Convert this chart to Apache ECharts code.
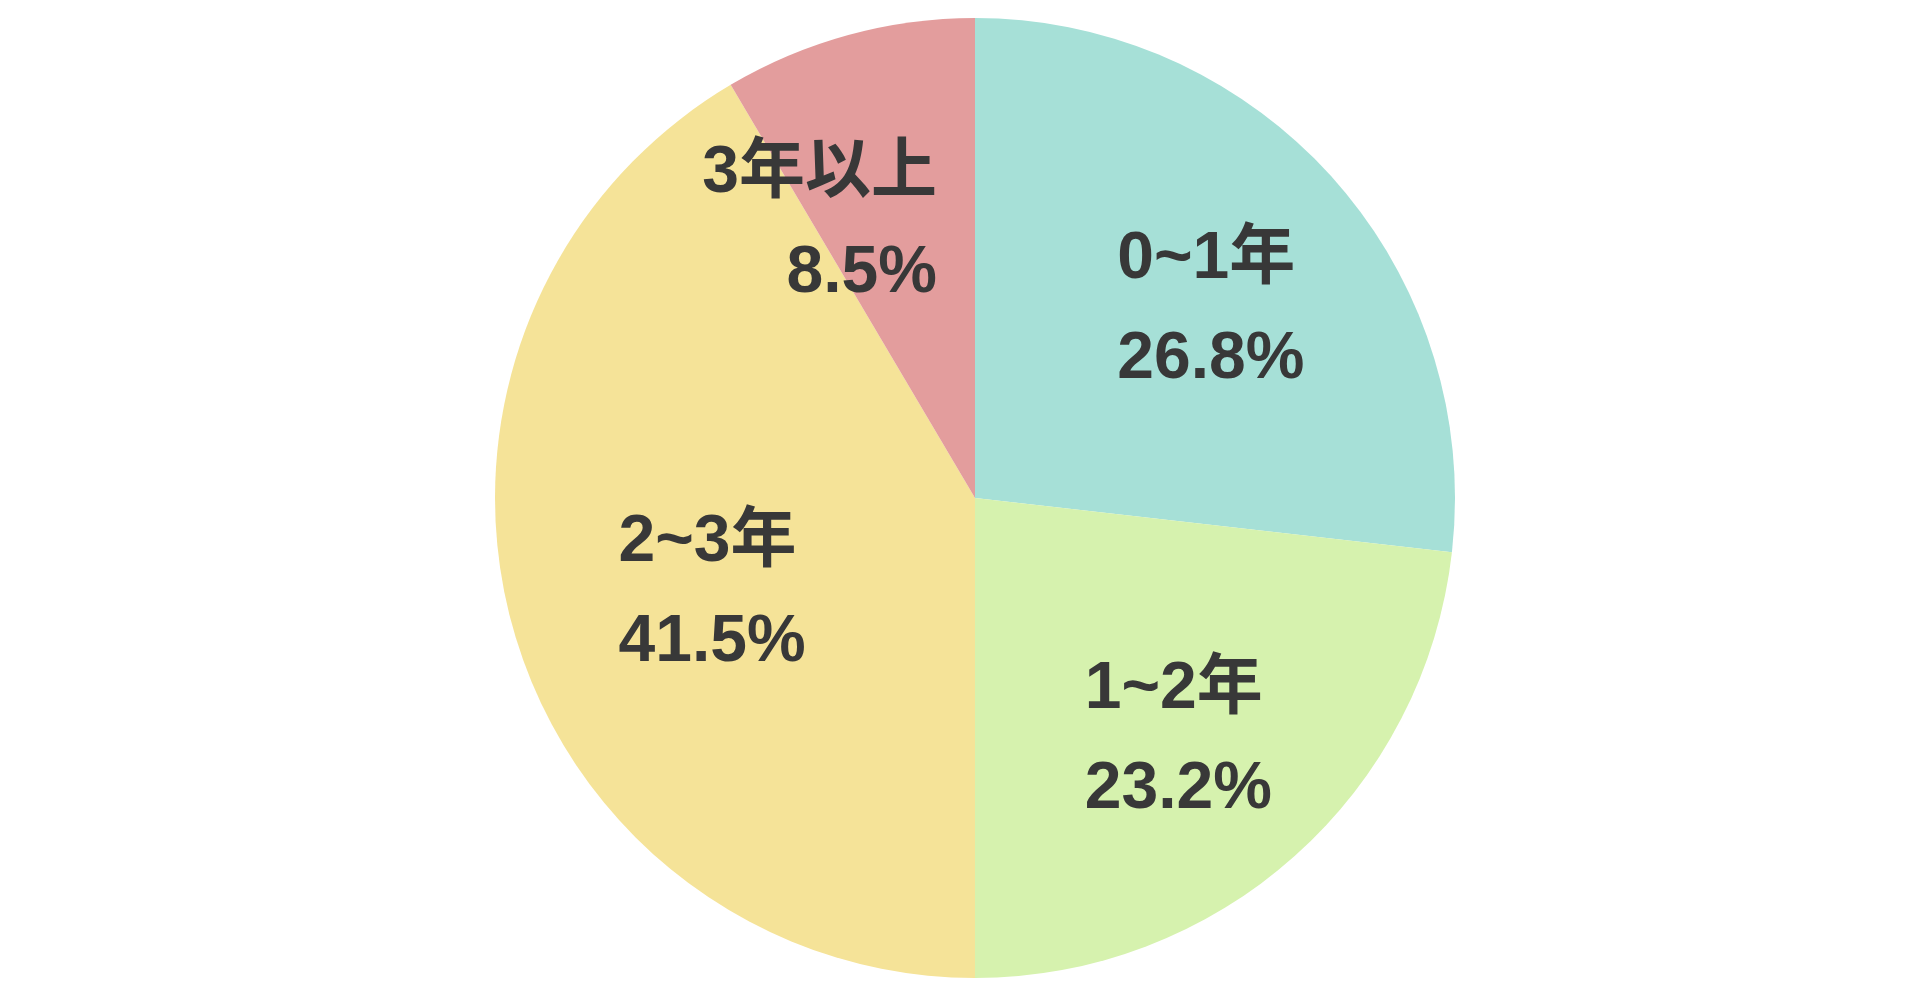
<!DOCTYPE html>
<html><head><meta charset="utf-8">
<script src="https://cdn.jsdelivr.net/npm/echarts@6/dist/echarts.min.js"></script>
<style>html,body{margin:0;padding:0;background:#fff}#c{width:1920px;height:1005px}</style>
</head><body><div id="c"></div>
<script>
const categories = ['0~1年', '1~2年', '2~3年', '3年以上'];
const values = [26.8, 23.2, 41.5, 8.5];
const colors = ['#a6e0d7', '#d6f2ae', '#f5e398', '#e39d9d'];

// label nudges (style only)
const labelShift = [
  { dx: -39, dy: -26, align: 'left' },
  { dx: -52, dy: 61, align: 'left' },
  { dx: -122, dy: 31, align: 'left' },
  { dx: 26, dy: -40, align: 'right' }
];

const chart = echarts.init(document.getElementById('c'));
chart.setOption({
  animation: false,
  series: [{
    type: 'pie',
    center: [975, 498],
    radius: 480,
    startAngle: 90,
    clockwise: true,
    label: {
      show: true,
      position: 'inside',
      formatter: p => p.name + '\n' + p.value + '%',
      fontFamily: '"Liberation Sans", "Noto Sans CJK JP", sans-serif',
      fontWeight: 'bold',
      fontSize: 66,
      lineHeight: 100,
      color: '#383838'
    },
    labelLayout: p => ({
      dx: labelShift[p.dataIndex].dx,
      dy: labelShift[p.dataIndex].dy,
      align: labelShift[p.dataIndex].align,
      verticalAlign: 'middle'
    }),
    labelLine: { show: false },
    emphasis: { disabled: true },
    data: categories.map((n, i) => ({ name: n, value: values[i], itemStyle: { color: colors[i] } }))
  }]
});
</script></body></html>
